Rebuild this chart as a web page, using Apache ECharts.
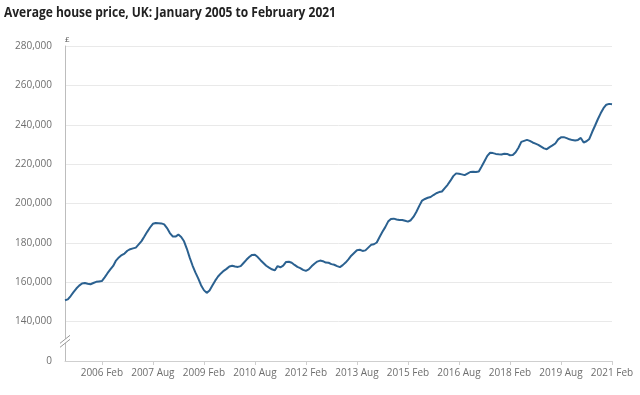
<!DOCTYPE html>
<html>
<head>
<meta charset="utf-8">
<script src="https://cdn.jsdelivr.net/npm/echarts@6/dist/echarts.min.js"></script>
<style>html,body{margin:0;padding:0;background:#fff;}#c{width:640px;height:395px;}</style>
</head>
<body>
<div id="c"></div>
<script>
var titleText = 'Average house price, UK: January 2005 to February 2021';
var years = [2005,2006,2007,2008,2009,2010,2011,2012,2013,2014,2015,2016,2017,2018,2019,2020,2021];
var monthNames = ['Jan','Feb','Mar','Apr','May','Jun','Jul','Aug','Sep','Oct','Nov','Dec'];
var tickLabels = ['2006 Feb','2007 Aug','2009 Feb','2010 Aug','2012 Feb','2013 Aug','2015 Feb','2016 Aug','2018 Feb','2019 Aug','2021 Feb'];
var yTicks = [0,140000,160000,180000,200000,220000,240000,260000,280000];

// Average house price, thousands of pounds, Jan 2005 .. Feb 2021 (monthly)
var price2005 = [150.9,151.3,153.0,155.0,156.8,158.3,159.4,159.6,159.2,159.0,159.6,160.2];
var price2006 = [160.4,160.6,162.5,164.6,166.5,168.3,171.0,172.6,173.8,174.6,176.0,176.8];
var price2007 = [177.2,177.6,179.2,180.9,183.2,185.6,187.8,189.7,190.1,190.0,189.9,189.4];
var price2008 = [187.5,185.0,183.3,183.2,184.2,183.0,180.8,177.0,172.5,168.5,165.0,162.0];
var price2009 = [158.5,156.0,154.6,155.8,158.3,160.8,162.9,164.5,165.8,166.8,168.0,168.4];
var price2010 = [168.0,167.8,168.2,169.8,171.4,172.8,173.9,174.0,172.8,171.2,169.8,168.4];
var price2011 = [167.4,166.6,166.0,168.2,167.6,168.4,170.3,170.4,169.9,168.8,167.8,167.2];
var price2012 = [166.3,165.8,166.5,168.1,169.4,170.5,171.0,170.7,170.0,169.9,169.2,168.9];
var price2013 = [168.2,167.7,168.7,170.0,171.6,173.5,174.9,176.3,176.5,175.9,176.2,177.6];
var price2014 = [179.0,179.3,180.2,183.0,185.6,188.0,190.8,192.1,192.3,191.9,191.6,191.6];
var price2015 = [191.2,190.8,191.5,193.3,195.8,198.8,201.5,202.3,202.9,203.3,204.3,205.2];
var price2016 = [205.8,206.1,207.8,209.5,211.6,213.9,215.3,215.1,214.8,214.4,215.2,216.0];
var price2017 = [216.1,216.0,216.3,218.8,221.5,224.2,225.8,225.6,225.2,225.0,224.9,225.3];
var price2018 = [225.2,224.5,224.6,226.0,228.3,231.3,231.8,232.3,231.8,231.0,230.4,229.8];
var price2019 = [228.9,228.0,227.6,228.6,229.5,230.5,232.6,233.6,233.7,233.2,232.6,232.2];
var price2020 = [232.0,232.3,233.3,231.0,231.6,232.8,236.3,239.5,242.8,245.8,248.4,250.2];
var price2021 = [250.6,250.4];

var priceByYear = [price2005,price2006,price2007,price2008,price2009,price2010,price2011,price2012,
  price2013,price2014,price2015,price2016,price2017,price2018,price2019,price2020,price2021];

var categories = [];
var values = [];
priceByYear.forEach(function (arr, yi) {
  arr.forEach(function (v, mi) {
    categories.push(years[yi] + ' ' + monthNames[mi]);
    values.push(Math.round(v * 1000));
  });
});

function showTick(idx, val) { return tickLabels.indexOf(val) >= 0; }

var chart = echarts.init(document.getElementById('c'), null, {renderer: 'canvas'});
chart.setOption({
  animation: false,
  backgroundColor: '#ffffff',
  grid: {left: 65, right: 28, top: 46, bottom: 34, containLabel: false},
  xAxis: {
    type: 'category',
    data: categories,
    boundaryGap: false,
    axisLine: {lineStyle: {color: '#cfcfcf', width: 1}},
    axisTick: {show: true, interval: showTick, length: 4, lineStyle: {color: '#cfcfcf'}},
    axisLabel: {interval: showTick, color: '#6e6e6e', fontFamily: 'Open Sans', fontSize: 10, margin: 7},
    splitLine: {show: false}
  },
  yAxis: {
    type: 'value',
    min: 120000, max: 280000, interval: 20000,
    name: '£',
    nameLocation: 'end',
    nameGap: 2,
    nameTextStyle: {fontFamily: 'Open Sans', fontSize: 8, color: '#555', align: 'left'},
    axisLine: {show: true, lineStyle: {color: '#bdbdbd', width: 1}},
    axisTick: {show: false},
    axisLabel: {
      color: '#6e6e6e', fontFamily: 'Open Sans', fontSize: 10, margin: 13,
      formatter: function (v) {
        var t = v === 120000 ? yTicks[0] : v;
        return t.toString().replace(/\B(?=(\d{3})+(?!\d))/g, ',');
      }
    },
    splitLine: {
      show: true,
      lineStyle: {color: '#e9e9e9', width: 1}
    }
  },
  series: [{
    type: 'line',
    data: values,
    showSymbol: false,
    symbol: 'none',
    lineStyle: {color: '#2b6190', width: 2},
    z: 3
  }]
});

// title (slightly condensed like the reference) and axis-break marker
var bx = chart.convertToPixel({xAxisIndex: 0}, 0);
var by = chart.convertToPixel({yAxisIndex: 0}, 130000);
chart.setOption({
  graphic: [
    {type: 'text', left: 4, top: 5, z: 100, scaleX: 0.8, originX: 0,
      style: {text: titleText, fontFamily: 'Open Sans', fontSize: 15, fontWeight: 'bold', fill: '#222222'}},
    {type: 'polygon', z: 100, shape: {points: [[bx-5, by+2],[bx+5, by-6],[bx+5, by-2],[bx-5, by+6]]},
      style: {fill: '#ffffff'}},
    {type: 'line', z: 101, shape: {x1: bx-5, y1: by+2, x2: bx+5, y2: by-6}, style: {stroke: '#9a9a9a', lineWidth: 1}},
    {type: 'line', z: 101, shape: {x1: bx-5, y1: by+6, x2: bx+5, y2: by-2}, style: {stroke: '#9a9a9a', lineWidth: 1}}
  ]
});
</script>
</body>
</html>
